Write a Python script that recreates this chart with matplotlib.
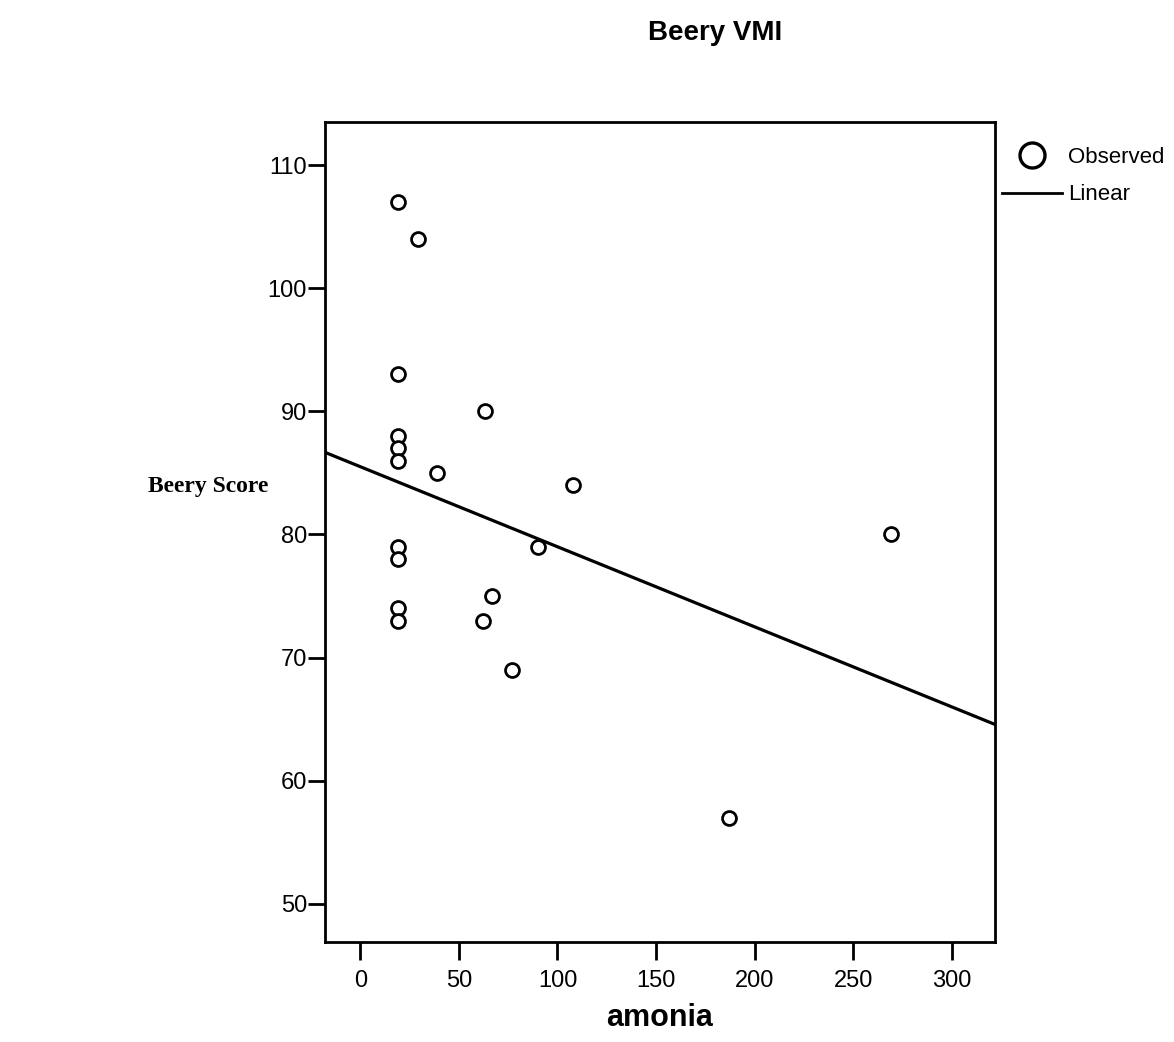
import matplotlib
matplotlib.use('Agg')
import matplotlib.pyplot as plt
from matplotlib.lines import Line2D
import numpy as np

# amonia vs Beery score
amonia = [19, 29, 19, 63, 19, 19, 19, 39, 108, 19, 19, 90, 19, 19, 67, 62, 77, 269, 187]
beery = [107, 104, 93, 90, 88, 87, 86, 85, 84, 79, 78, 79, 74, 73, 75, 73, 69, 80, 57]

# fitted linear line as drawn (intercept at amonia=0, slope)
fit_intercept = 85.5
fit_slope = -0.065

x_ticks = [0, 50, 100, 150, 200, 250, 300]
y_ticks = [50, 60, 70, 80, 90, 100, 110]

sans = ['Liberation Sans', 'DejaVu Sans']

fig = plt.figure(figsize=(11.74, 10.42), dpi=100)
ax = fig.add_axes([0.2768, 0.096, 0.5707, 0.7869])

ax.set_xlim(-18, 322)
ax.set_ylim(46.9, 113.5)

ax.plot(amonia, beery, 'o', markersize=10, markerfacecolor='white',
        markeredgecolor='black', markeredgewidth=2.0, linestyle='none')

xl = np.array(ax.get_xlim())
ax.plot(xl, fit_intercept + fit_slope * xl, color='black', linewidth=2.3)

ax.set_xticks(x_ticks)
ax.set_yticks(y_ticks)
ax.set_xticklabels([str(v) for v in x_ticks], family=sans, fontsize=17)
ax.set_yticklabels([str(v) for v in y_ticks], family=sans, fontsize=17)
ax.tick_params(axis='x', direction='out', length=13, width=2, pad=7)
ax.tick_params(axis='y', direction='out', length=12, width=2, pad=1)
for s in ax.spines.values():
    s.set_linewidth(2)

ax.set_xlabel('amonia', family=sans, fontsize=22, fontweight='bold', labelpad=8)
fig.text(0.126, 0.533, 'Beery Score', family=['Liberation Serif', 'DejaVu Serif'],
         fontsize=17, fontweight='bold', ha='left', va='center')
fig.text(0.609, 0.968, 'Beery VMI', family=sans,
         fontsize=20, fontweight='bold', ha='center', va='center')

handles = [
    Line2D([], [], marker='o', linestyle='none', markersize=18, markerfacecolor='white',
           markeredgecolor='black', markeredgewidth=2.4),
    Line2D([], [], color='black', linewidth=2),
]
leg = ax.legend(handles, ['Observed', 'Linear'], loc='upper left',
                bbox_to_anchor=(1.0, 0.978), frameon=False, handlelength=2.7,
                handletextpad=0.3, borderaxespad=0.1, borderpad=0.2, labelspacing=0.75,
                prop={'family': sans, 'size': 16})

fig.savefig('out.png', dpi=100)
